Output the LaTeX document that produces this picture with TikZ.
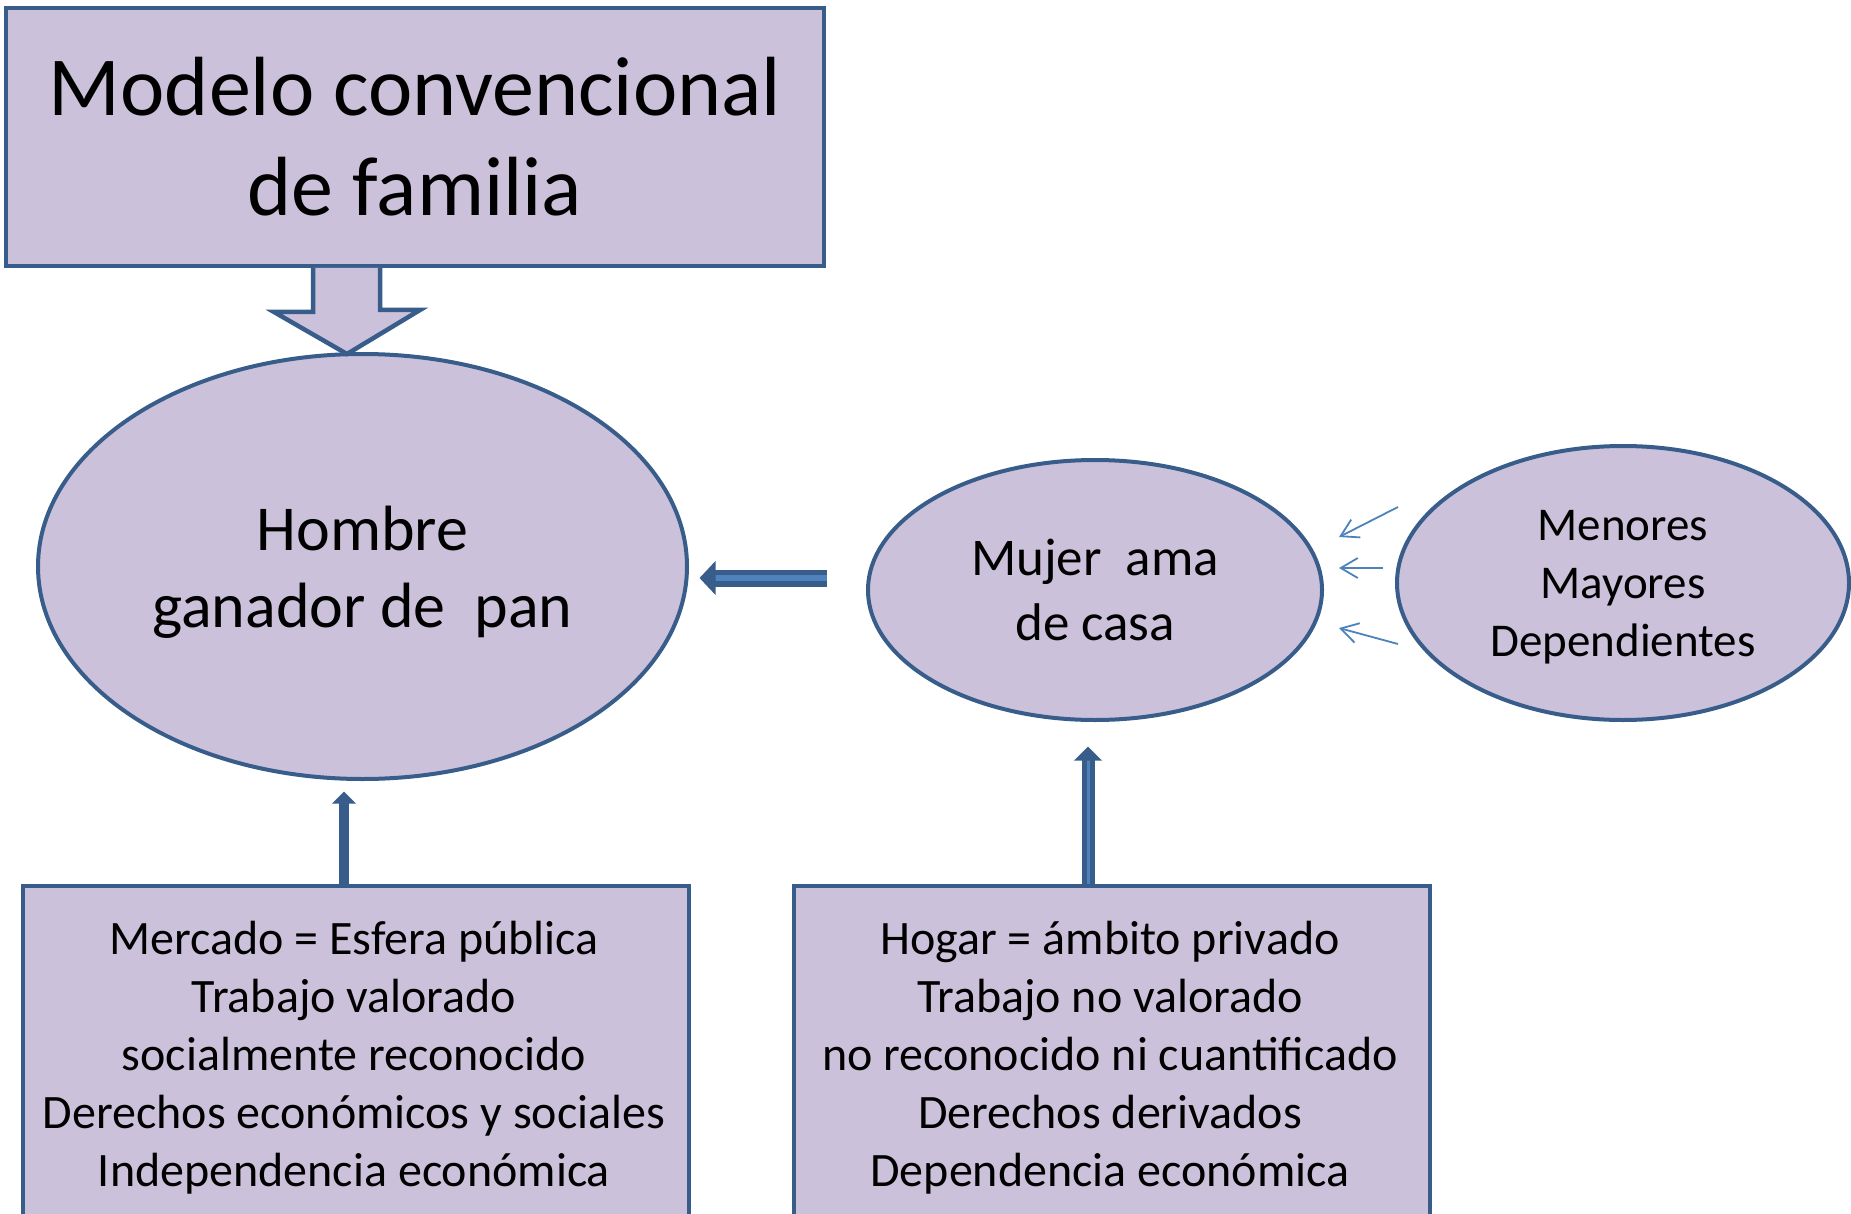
\documentclass[tikz,border=0pt]{standalone}
\usepackage{fontspec}
\setmainfont{Carlito}
\usetikzlibrary{shapes,arrows.meta,positioning,calc}
\definecolor{lavfill}{HTML}{CCC1DA}
\definecolor{darkedge}{HTML}{385D8A}
\definecolor{accentblue}{HTML}{4F81BD}
\tikzstyle{titlebox} = [rectangle, minimum width=818pt, minimum height=258pt, inner sep=0pt, align=center, fill=lavfill, draw=darkedge, line width=4pt]
\tikzstyle{oval} = [ellipse, inner sep=0pt, align=center, fill=lavfill, draw=darkedge, line width=4pt]
\tikzstyle{infobox} = [rectangle, anchor=north west, fill=lavfill, draw=darkedge, line width=4pt]
\tikzstyle{infotext} = [anchor=base, text width=640pt, align=flush center, inner sep=0pt, font=\fontsize{48}{58}\selectfont]
\tikzstyle{block} = [fill=lavfill, draw=darkedge, line width=4.5pt, line join=miter]
\tikzstyle{leftarrow} = [draw=darkedge, line width=5.5pt, double=accentblue, double distance=6pt, -{Triangle[length=16pt,width=33pt]}]
\tikzstyle{uparrow} = [draw=darkedge, line width=10pt, -{Triangle[length=12pt,width=23pt]}]
\tikzstyle{dblarrow} = [draw=darkedge, line width=5pt, double=accentblue, double distance=3pt, -{Triangle[length=14pt,width=27pt]}]
\tikzstyle{thinarrow} = [draw=accentblue, line width=1.8pt, -{Straight Barb[length=17pt,width=20pt]}]

\begin{document}
\begin{tikzpicture}[x=1pt, y=-1pt]
        \useasboundingbox (0,0) rectangle (1851,1214);
        \clip (0,0) rectangle (1851,1214);
        \node (title) [titlebox, font=\fontsize{84}{100}\selectfont] at (415,137) {Modelo convencional\\de familia};
        \node (hombre) [oval, minimum width=649pt, minimum height=425pt, text depth=0pt, font=\fontsize{64}{77}\selectfont] at (362.5,566.5) {Hombre\\ganador de~~pan};
        \node (mujer) [oval, minimum width=454pt, minimum height=260pt, font=\fontsize{53}{65}\selectfont] at (1095,590) {Mujer~~ama\\de casa};
        \node (menores) [oval, minimum width=452pt, minimum height=274pt, text depth=0pt, font=\fontsize{47}{58}\selectfont] at (1623,583) {Menores\\Mayores\\Dependientes};
        \node (mercado) [infobox, minimum width=666pt, minimum height=420pt] at (21,884) {};
        \node (mercadotxt) [infotext] at (354,954.5) {Mercado = Esfera pública\\Trabajo valorado\\socialmente reconocido\\Derechos económicos y sociales\\Independencia económica};
        \node (hogar) [infobox, minimum width=636pt, minimum height=420pt] at (792,884) {};
        \node (hogartxt) [infotext] at (1110,954.5) {Hogar = ámbito privado\\Trabajo no valorado\\no reconocido ni cuantificado\\Derechos derivados\\Dependencia económica};
        \coordinate (tip) at (347,354);
        \coordinate (midline) at (0,578);
        \coordinate (lx) at (344,0);
        \coordinate (rx) at (1088,0);
        \coordinate (from1) at (1398,507);
        \coordinate (to1) at (1339,537);
        \coordinate (from2) at (1383,568);
        \coordinate (to2) at (1339,568);
        \coordinate (from3) at (1398,644);
        \coordinate (to3) at (1339,628);
        \draw [block] ($(title.south -| tip)+(-34,0)$) -- ++(0,44) -- ++(-39,0) -- (tip) -- ++(73,-44) -- ++(-40,0) -- ($(title.south -| tip)+(33,0)$);
        \draw [leftarrow, shorten <=39.5pt, shorten >=10.5pt] (mujer.west |- midline) -- (hombre.east |- midline);
        \draw [uparrow, shorten >=10.5pt] (mercado.north -| lx) -- (hombre.south -| lx);
        \draw [dblarrow, shorten >=24.5pt] (hogar.north -| rx) -- (mujer.south -| rx);
        \draw [thinarrow] (from1) -- (to1);
        \draw [thinarrow] (from2) -- (to2);
        \draw [thinarrow] (from3) -- (to3);
    \end{tikzpicture}
\end{document}
